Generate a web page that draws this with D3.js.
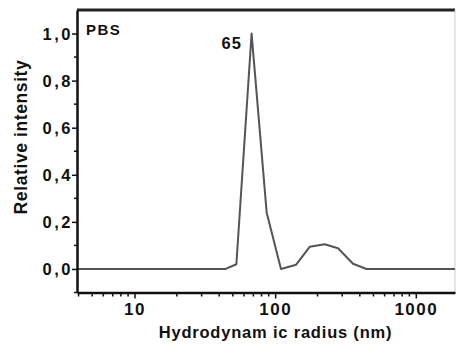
<!DOCTYPE html>
<html><head><meta charset="utf-8">
<script src="https://cdn.jsdelivr.net/npm/d3@7"></script>
<style>
html,body{margin:0;padding:0;background:#fff;}
svg{display:block;}
text{font-family:"Liberation Sans",Arial,sans-serif;font-weight:bold;fill:#111;}
</style></head>
<body>
<svg id="c" width="456" height="345"></svg>
<script>
// Data
const radius = [3.9, 44.5, 53, 68, 87, 110, 141, 176, 225, 280, 358, 446, 1900];
const intensity = [0, 0, 0.02, 1.0, 0.24, 0.0, 0.018, 0.094, 0.105, 0.088, 0.022, 0, 0];
const yTicks = [0, 0.2, 0.4, 0.6, 0.8, 1.0];
const yMinor = [-0.1, 0.1, 0.3, 0.5, 0.7, 0.9];
const xTicks = [10, 100, 1000];
const xMinor = [4,5,6,7,8,9,20,30,40,50,60,70,80,90,200,300,400,500,600,700,800,900];
const sampleLabel = "PBS";
const peakLabel = "65";
const peakValue = 65;

const svg = d3.select("#c");
const L = 77, R = 455, T = 10, B = 292.5;
const x = d3.scaleLog().domain([3.9, 1900]).range([L, R]);
const y = d3.scaleLinear().domain([-0.1, 1.1]).range([B, T]);
const fmt = d => d3.format(".1f")(d).replace(".", ",");
const FF = '"Liberation Sans",Arial,sans-serif';

// frame: top thick, right thin
svg.append("line").attr("x1", L).attr("x2", R).attr("y1", T).attr("y2", T)
  .attr("stroke", "#222").attr("stroke-width", 3);
svg.append("line").attr("x1", R).attr("x2", R).attr("y1", T).attr("y2", B)
  .attr("stroke", "#ccc").attr("stroke-width", 1);

// curve
const line = d3.line().x((d, i) => x(radius[i])).y(d => y(d));
svg.append("path").datum(intensity).attr("d", line)
  .attr("fill", "none").attr("stroke", "#555").attr("stroke-width", 2)
  .attr("stroke-linejoin", "round");

// Y axis
const yAx = svg.append("g").attr("transform", `translate(${L},0)`)
  .call(d3.axisLeft(y).tickValues(yTicks).tickFormat(fmt).tickSize(5).tickSizeOuter(0));
yAx.select(".domain").attr("stroke", "#111").attr("stroke-width", 2.5);
yAx.selectAll(".tick line").attr("stroke", "#111").attr("stroke-width", 1.5);
yAx.selectAll(".tick text").attr("font-size", 16.5).attr("letter-spacing", 2.5)
  .attr("x", -4).attr("dy", "0.36em").attr("font-family", FF).attr("font-weight", "bold").attr("fill", "#111");
yAx.append("g").selectAll("line").data(yMinor).join("line")
  .attr("x1", -3).attr("x2", 0).attr("y1", d => y(d)).attr("y2", d => y(d))
  .attr("stroke", "#111").attr("stroke-width", 1.5);

// X axis
const xAx = svg.append("g").attr("transform", `translate(0,${B})`)
  .call(d3.axisBottom(x).tickValues(xTicks).tickFormat(d3.format("d")).tickSize(6).tickSizeOuter(0));
xAx.select(".domain").attr("stroke", "#111").attr("stroke-width", 2.5);
xAx.selectAll(".tick line").attr("stroke", "#111").attr("stroke-width", 1.5);
xAx.selectAll(".tick text").attr("font-size", 17).attr("letter-spacing", 1.5)
  .attr("y", 10).attr("dy", "0.71em").attr("font-family", FF).attr("font-weight", "bold").attr("fill", "#111");
xAx.append("g").selectAll("line").data(xMinor).join("line")
  .attr("x1", d => x(d)).attr("x2", d => x(d)).attr("y1", 0).attr("y2", 4)
  .attr("stroke", "#111").attr("stroke-width", 1.5);

// Axis titles
svg.append("text").attr("x", 275.5).attr("y", 338).attr("text-anchor", "middle")
  .attr("font-size", 16.5).attr("letter-spacing", 0.8).text("Hydrodynam ic radius (nm)");
svg.append("text").attr("transform", "translate(27,137) rotate(-90)").attr("text-anchor", "middle")
  .attr("font-size", 17.5).attr("letter-spacing", 0.6).text("Relative intensity");

// Annotations
svg.append("text").attr("x", L + 9).attr("y", 35).attr("font-size", 15).attr("letter-spacing", 1.5).text(sampleLabel);
svg.append("text").attr("x", x(peakValue) - 7).attr("y", y(1.0) + 15.5).attr("text-anchor", "end")
  .attr("font-size", 16.5).attr("letter-spacing", 1).text(peakLabel);
</script>
</body></html>
